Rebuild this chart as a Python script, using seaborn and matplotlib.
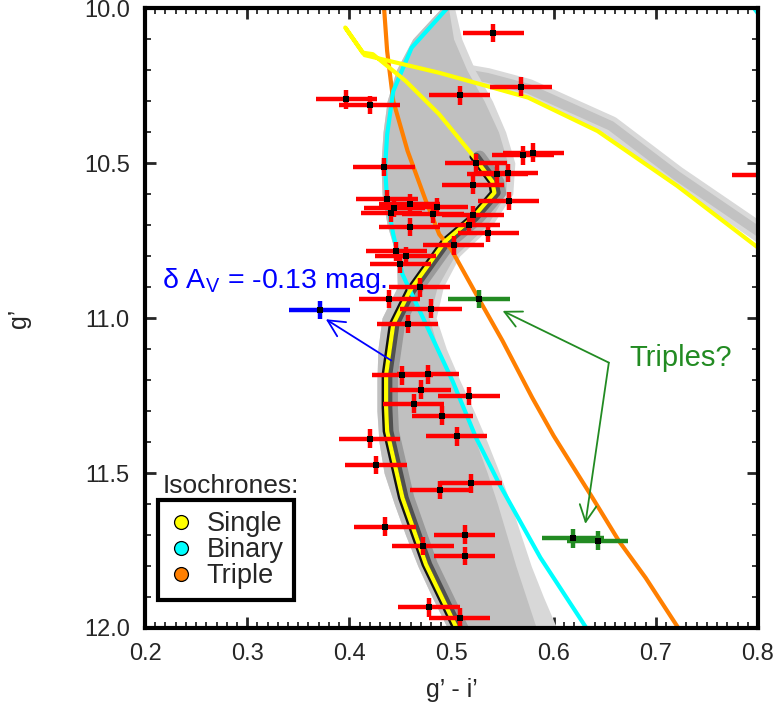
import numpy as np
import pandas as pd
import matplotlib
matplotlib.use("Agg")
import matplotlib.pyplot as plt
import matplotlib.transforms as mtrans
import seaborn as sns
from matplotlib.lines import Line2D

# ---------------- data ----------------
# observed stars (g'-i', g')
star_x = [0.397, 0.420, 0.434, 0.437, 0.444, 0.459, 0.441, 0.486, 0.482, 0.459,
          0.502, 0.446, 0.455, 0.450, 0.469, 0.439, 0.480, 0.457,
          0.541, 0.508, 0.568, 0.570, 0.580, 0.524, 0.545, 0.555, 0.521, 0.556,
          0.521, 0.517, 0.536,
          0.452, 0.477, 0.470, 0.463, 0.491, 0.505, 0.420, 0.426, 0.489, 0.435,
          0.472, 0.478, 0.508,
          0.517, 0.519, 0.513, 0.513, 0.805]
star_g = [10.295, 10.313, 10.513, 10.616, 10.645, 10.631, 10.661, 10.642, 10.665, 10.706,
          10.766, 10.785, 10.801, 10.826, 10.901, 10.939, 10.970, 11.019,
          10.080, 10.282, 10.254, 10.475, 10.467, 10.500, 10.536, 10.532, 10.570, 10.622,
          10.669, 10.700, 10.725,
          11.185, 11.182, 11.231, 11.276, 11.315, 11.382, 11.389, 11.474, 11.555, 11.673,
          11.735, 11.933, 11.967,
          11.251, 11.533, 11.699, 11.768, 10.538]
err_x = 0.03
err_g = 0.03

# reddening-shifted star
blue_x = [0.371]
blue_g = [10.974]

# triple candidates
trip_x = [0.527, 0.619, 0.643]
trip_g = [10.939, 11.711, 11.718]

# isochrones
single_x = [0.505, 0.475, 0.452, 0.437, 0.436, 0.436, 0.443, 0.459, 0.494, 0.521,
            0.542, 0.540, 0.522, 0.488, 0.455, 0.423, 0.413, 0.396, 0.415, 0.488,
            0.535, 0.575, 0.643, 0.721, 0.798, 0.815]
single_g = [12.000, 11.795, 11.580, 11.365, 11.289, 11.182, 11.020, 10.913, 10.752, 10.676,
            10.596, 10.560, 10.480, 10.343, 10.235, 10.149, 10.144, 10.063, 10.152, 10.209,
            10.252, 10.289, 10.397, 10.574, 10.768, 10.810]

binary_x = [0.632, 0.587, 0.547, 0.524, 0.501, 0.475, 0.452, 0.443, 0.437, 0.435,
            0.437, 0.443, 0.461, 0.496, 0.520, 0.750, 0.790, 0.810]
binary_g = [12.000, 11.773, 11.537, 11.386, 11.203, 11.020, 10.859, 10.730, 10.623, 10.515,
            10.408, 10.268, 10.128, 10.000, 9.900, 9.900, 9.975, 10.060]

triple_x = [0.434, 0.437, 0.443, 0.457, 0.475, 0.488, 0.500, 0.527, 0.550, 0.579,
            0.600, 0.638, 0.664, 0.690, 0.722]
triple_g = [10.000, 10.139, 10.300, 10.461, 10.623, 10.730, 10.780, 10.940, 11.074, 11.257,
            11.380, 11.580, 11.720, 11.838, 12.000]

# simulated population (grey Hess-diagram envelope)
hess_g = [10.0, 10.1, 10.2, 10.3, 10.4, 10.5, 10.6, 10.7, 10.8, 10.9, 11.0,
          11.1, 11.2, 11.3, 11.4, 11.5, 11.6, 11.7, 11.8, 11.9, 12.0]
hess_left = [0.490, 0.462, 0.446, 0.437, 0.433, 0.431, 0.432, 0.437, 0.446, 0.447, 0.432,
             0.428, 0.427, 0.427, 0.429, 0.434, 0.444, 0.455, 0.467, 0.481, 0.496]
hess_right = [0.503, 0.510, 0.523, 0.540, 0.553, 0.562, 0.560, 0.540, 0.508, 0.492, 0.485,
              0.495, 0.508, 0.522, 0.535, 0.547, 0.558, 0.568, 0.578, 0.590, 0.603]
core_right = [0.497, 0.502, 0.515, 0.532, 0.546, 0.555, 0.553, 0.535, 0.503, 0.486, 0.478,
              0.487, 0.499, 0.512, 0.524, 0.535, 0.545, 0.554, 0.563, 0.573, 0.583]
# grey band of the evolved branch
band_x = [0.500, 0.535, 0.575, 0.656, 0.720, 0.800, 0.830]
band_g = [10.205, 10.225, 10.260, 10.380, 10.540, 10.720, 10.790]

iso_labels = ["Single", "Binary", "Triple"]
iso_colors = ["#ffff00", "#00ffff", "#ff7f00"]

# ---------------- style ----------------
sns.set_style("ticks")
plt.rcParams["font.family"] = ["Liberation Sans", "DejaVu Sans"]
plt.rcParams["mathtext.fontset"] = "custom"
plt.rcParams["mathtext.rm"] = "Liberation Sans"
plt.rcParams["mathtext.it"] = "Liberation Sans:italic"

FS = 17
LFS = 19.5
fig = plt.figure(figsize=(7.74, 7.06), dpi=100)
ax = fig.add_axes([145 / 774, 78 / 706, 613 / 774, 620 / 706])


def shifted(dx_pt):
    return ax.transData + mtrans.ScaledTranslation(dx_pt / 72.0, 0, fig.dpi_scale_trans)


# grey simulated population
ax.plot(band_x, band_g, color="#d9d9d9", lw=14, solid_capstyle="round", zorder=0.8)
ax.plot(band_x, band_g, color="#c2c2c2", lw=7, solid_capstyle="round", zorder=0.9)
ax.fill_betweenx(hess_g, hess_left, hess_right, color="#d8d8d8", lw=0, zorder=1)
ax.fill_betweenx(hess_g, hess_left, core_right, color="#c0c0c0", lw=0, zorder=1.1)
# dark ridge along single-star sequence (darkest just left of / on the line)
ax.plot(single_x[:13], single_g[:13], color="#8a8a8a", lw=9, alpha=0.7, zorder=1.4,
        solid_joinstyle="round", transform=shifted(4.0))
ax.plot(single_x[:13], single_g[:13], color="#505050", lw=6, zorder=1.5,
        solid_joinstyle="round", transform=shifted(1.5))
ax.plot(single_x[:13], single_g[:13], color="#111111", lw=4.5, zorder=1.6,
        solid_joinstyle="round", transform=shifted(-1.0))

# isochrones
for xs, gs, c in [(triple_x, triple_g, iso_colors[2]),
                  (binary_x, binary_g, iso_colors[1]),
                  (single_x, single_g, iso_colors[0])]:
    df = pd.DataFrame({"x": xs, "g": gs})
    sns.lineplot(data=df, x="x", y="g", sort=False, estimator=None, color=c,
                 lw=3.0, ax=ax, zorder=3)

# error bars
ax.errorbar(star_x, star_g, xerr=err_x, yerr=err_g, fmt="none", ecolor="#ff0000",
            elinewidth=3.2, capsize=0, zorder=4)
ax.errorbar(blue_x, blue_g, xerr=err_x, yerr=err_g, fmt="none", ecolor="#0000ff",
            elinewidth=3.2, capsize=0, zorder=4)
ax.errorbar(trip_x, trip_g, xerr=err_x, yerr=err_g, fmt="none", ecolor="#228b22",
            elinewidth=3.2, capsize=0, zorder=4)

pts = pd.DataFrame({"x": star_x + blue_x + trip_x, "g": star_g + blue_g + trip_g})
sns.scatterplot(data=pts, x="x", y="g", marker="s", s=22, color="black",
                linewidth=0, ax=ax, zorder=5)

# annotations
ax.text(0.2165, 10.903, "δ A$_\\mathrm{V}$ = -0.13 mag.", color="#0000ff",
        fontsize=20.5, ha="left", va="baseline", zorder=6)
ax.annotate("", xy=(0.377, 11.004), xytext=(0.441, 11.137),
            arrowprops=dict(arrowstyle="->,head_length=0.6,head_width=0.3",
                            color="#0000ff", lw=1.3, shrinkA=0, shrinkB=0,
                            mutation_scale=20), zorder=6)
ax.text(0.674, 11.155, "Triples?", color="#228b22", fontsize=21,
        ha="left", va="baseline", zorder=6)
for tip in [(0.550, 10.977), (0.631, 11.664)]:
    ax.annotate("", xy=tip, xytext=(0.654, 11.144),
                arrowprops=dict(arrowstyle="->,head_length=0.6,head_width=0.3",
                                color="#228b22", lw=1.3, shrinkA=0, shrinkB=0,
                                mutation_scale=20), zorder=6)

# legend
ax.text(0.029, 0.218, "Isochrones:", transform=ax.transAxes, fontsize=19,
        ha="left", va="baseline", zorder=7)
handles = [Line2D([], [], marker="o", ls="none", markersize=10, markerfacecolor=c,
                  markeredgecolor="black", markeredgewidth=0.9) for c in iso_colors]
leg = ax.legend(handles, iso_labels, loc="lower left", bbox_to_anchor=(0.021, 0.045),
                borderaxespad=0, frameon=True, fancybox=False, edgecolor="black",
                framealpha=1, fontsize=LFS, handlelength=0.9, handletextpad=0.5,
                labelspacing=0.0, borderpad=0.4)
leg.get_frame().set_linewidth(3)
leg.set_zorder(8)

# axes
ax.set_xlim(0.2, 0.8)
ax.set_ylim(12.0, 10.0)
ax.set_xticks([0.2, 0.3, 0.4, 0.5, 0.6, 0.7, 0.8])
ax.set_xticks(np.arange(0.2, 0.8001, 0.01), minor=True)
ax.set_yticks([10.0, 10.5, 11.0, 11.5, 12.0])
ax.set_yticks(np.arange(10.0, 12.0001, 0.1), minor=True)
ax.set_xticklabels(["0.2", "0.3", "0.4", "0.5", "0.6", "0.7", "0.8"])
ax.set_yticklabels(["10.0", "10.5", "11.0", "11.5", "12.0"])
ax.tick_params(which="both", direction="in", top=True, right=True, labelsize=FS)
ax.tick_params(which="major", length=8, width=2, pad=11)
ax.tick_params(which="minor", length=4, width=1.3)
for s in ax.spines.values():
    s.set_linewidth(3)
    s.set_color("black")
    s.set_zorder(9)
ax.set_xlabel("g’ - i’", fontsize=18, labelpad=9)
ax.set_ylabel("g’", fontsize=18, labelpad=38)

fig.savefig("out.png", dpi=100)
